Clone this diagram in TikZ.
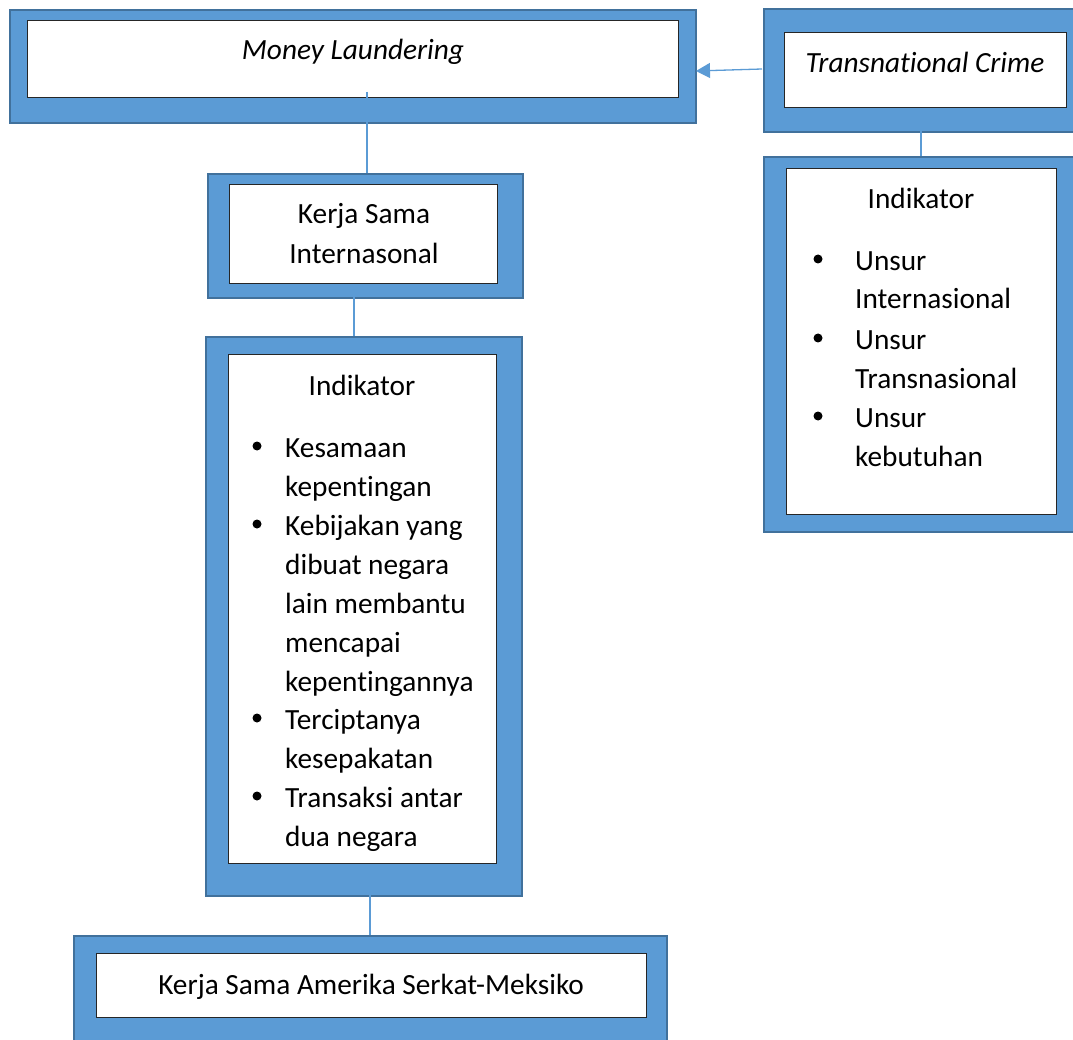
\documentclass[tikz,border=0pt]{standalone}
\usepackage{fontspec}
\setmainfont[Ligatures=NoCommon]{Carlito}
\usetikzlibrary{arrows.meta}
\definecolor{boxblue}{HTML}{5B9BD5}
\definecolor{boxedge}{HTML}{41719C}
\begin{document}
\begin{tikzpicture}[x=1pt,y=-1pt,
  outer/.style={draw=boxedge,line width=2pt,fill=boxblue,anchor=north west,inner sep=0pt},
  inner/.style={draw=black!85,line width=1.2pt,fill=white,anchor=north west,inner sep=0pt},
  conn/.style={draw=boxblue,line width=1.3pt},
  txt/.style={font=\fontsize{29.3}{39}\selectfont,inner sep=0pt,anchor=base},
  ltxt/.style={font=\fontsize{29.3}{39}\selectfont,inner sep=0pt,anchor=base west,align=left},
  dot/.style={circle,fill=black,inner sep=0pt,minimum size=9pt}]
\useasboundingbox (0,0) rectangle (1073,1040);
\clip (0,0) rectangle (1073,1040);
% Money Laundering
\node[outer,minimum width=686pt,minimum height=113pt] (ml) at (9,9) {};
\node[inner,minimum width=651pt,minimum height=77pt] (mlin) at (27,20) {};
\node[txt] (mlt) at (353,60) {\itshape Money Laundering};
% Transnational Crime
\node[outer,minimum width=320pt,minimum height=123pt] (tc) at (763,8) {};
\node[inner,minimum width=282pt,minimum height=75pt] (tcin) at (784,32) {};
\node[txt] (tct) at (925,73) {\itshape Transnational Crime};
% Kerja Sama Internasional
\node[outer,minimum width=315pt,minimum height=124pt] (ks) at (207,173) {};
\node[inner,minimum width=268pt,minimum height=99pt] (ksin) at (229,184) {};
\node[txt,align=center] (kst) at (364,264) {Kerja Sama\\[1pt]Internasonal};
% Indikator left
\node[outer,minimum width=316pt,minimum height=559pt] (il) at (205,336) {};
\node[inner,minimum width=268pt,minimum height=509pt] (ilin) at (228,354) {};
\node[txt] (ilt) at (362,395) {Indikator};
\node[dot] (b1) at (257,446) {};
\node[ltxt] (i1) at (285,496) {Kesamaan\\kepentingan};
\node[dot] (b2) at (257,524) {};
\node[ltxt] (i2) at (285,691) {Kebijakan yang\\dibuat negara\\lain membantu\\mencapai\\kepentingannya};
\node[dot] (b3) at (257,718) {};
\node[ltxt] (i3) at (285,768) {Terciptanya\\kesepakatan};
\node[dot] (b4) at (257,796) {};
\node[ltxt] (i4) at (285,846) {Transaksi antar\\dua negara};
% Indikator right
\node[outer,minimum width=320pt,minimum height=375pt] (ir) at (763,156) {};
\node[inner,minimum width=270pt,minimum height=346pt] (irin) at (786,168) {};
\node[txt] (irt) at (921,209) {Indikator};
\node[dot] (r1) at (818,259) {};
\node[ltxt] (j1) at (855,309) {Unsur\\Internasional};
\node[dot] (r2) at (818,338) {};
\node[ltxt] (j2) at (855,388) {Unsur\\Transnasional};
\node[dot] (r3) at (818,416) {};
\node[ltxt] (j3) at (855,466) {Unsur\\kebutuhan};
% Bottom
\node[outer,minimum width=593pt,minimum height=120pt] (am) at (73,935) {};
\node[inner,minimum width=550pt,minimum height=64pt] (amin) at (96,953) {};
\node[txt] (amt) at (371,994) {Kerja Sama Amerika Serkat-Meksiko};
% connectors
\coordinate (mlstub) at (367,92);
\draw[conn] (mlstub) -- (mlstub |- ks.north);
\coordinate (ksb) at (354,297);
\draw[conn] (ksb) -- (ksb |- il.north);
\coordinate (ilb) at (370,895);
\draw[conn] (ilb) -- (ilb |- am.north);
\coordinate (tcb) at (921,131);
\draw[conn] (tcb) -- (tcb |- ir.north);
\coordinate (tcl) at (762,69);
\coordinate (mlr) at (696,71);
\draw[conn,-{Triangle[length=14pt,width=15pt]}] (tcl) -- (mlr);
\end{tikzpicture}
\end{document}
